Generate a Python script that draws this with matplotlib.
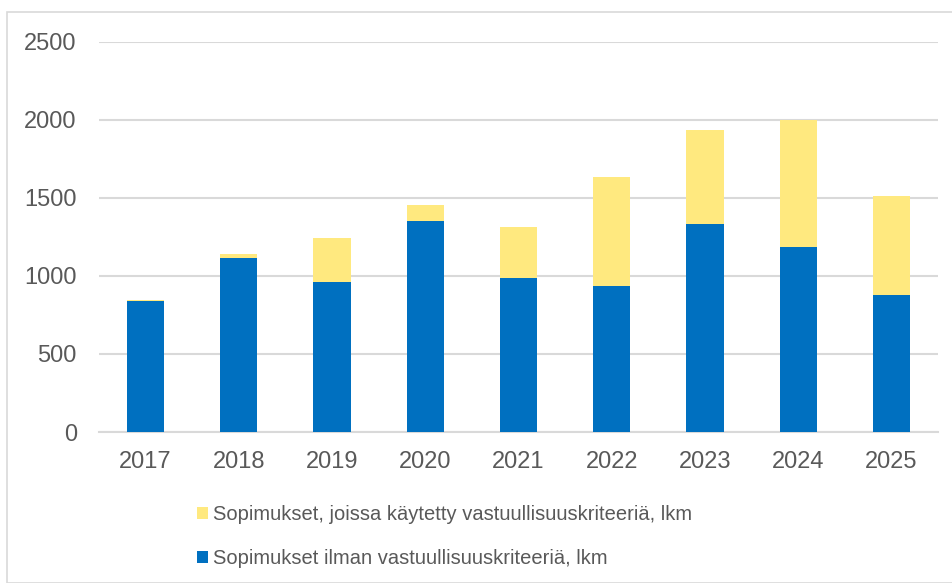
import matplotlib.pyplot as plt
from matplotlib.patches import Rectangle

plt.rcParams['font.family'] = ['Liberation Sans', 'DejaVu Sans']

years = ['2017', '2018', '2019', '2020', '2021', '2022', '2023', '2024', '2025']
without_criteria = [840, 1115, 963, 1350, 989, 936, 1329, 1182, 878]
with_criteria = [6, 26, 281, 101, 325, 697, 605, 814, 630]

label_with = 'Sopimukset, joissa käytetty vastuullisuuskriteeriä, lkm'
label_without = 'Sopimukset ilman vastuullisuuskriteeriä, lkm'

blue = '#0070C0'
yellow = '#FFE97F'
grey_text = '#595959'
grid_grey = '#D9D9D9'

fig = plt.figure(figsize=(9.53, 5.83), dpi=100)
ax = fig.add_axes([0.1039, 0.259, 0.8804, 0.6698])

x = range(len(years))
b1 = ax.bar(x, without_criteria, width=0.4, color=blue, zorder=3)
b2 = ax.bar(x, with_criteria, width=0.4, bottom=without_criteria, color=yellow, zorder=3)

ax.set_xlim(-0.5, len(years) - 0.5)
ax.set_ylim(0, 2500)
ax.set_yticks(range(0, 2501, 500))
ax.set_xticks(list(x))
ax.set_xticklabels(years)
ax.yaxis.grid(True, color=grid_grey, linewidth=1.5, zorder=0)
ax.tick_params(axis='both', length=0, labelsize=17, colors=grey_text)
ax.tick_params(axis='x', pad=14)
ax.tick_params(axis='y', pad=16)
for side in ['top', 'right', 'left']:
    ax.spines[side].set_visible(False)
ax.spines['bottom'].set_color(grid_grey)
ax.spines['bottom'].set_linewidth(1.5)

fig.legend([b2, b1], [label_with, label_without], loc='center left',
           bbox_to_anchor=(0.2065, 0.080), frameon=False, fontsize=14.5,
           handlelength=0.55, handleheight=0.55, handletextpad=0.25,
           labelspacing=1.25, labelcolor=grey_text, borderaxespad=0,
           borderpad=0)

# outer chart border
fig.patches.append(Rectangle((7 / 953, 0), 1 - 7 / 953, 1 - 12 / 583,
                             transform=fig.transFigure, fill=False,
                             edgecolor=grid_grey, linewidth=1.2))

fig.savefig('out.png', dpi=100)
